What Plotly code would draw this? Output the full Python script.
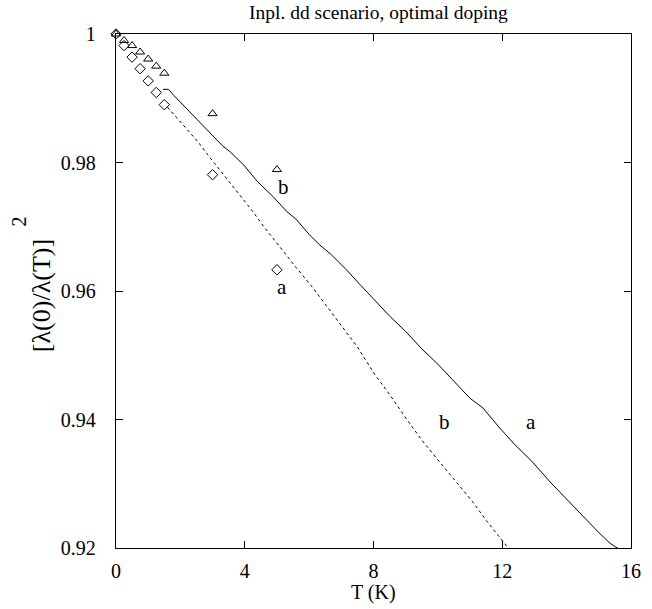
import plotly.graph_objects as go

# ---- data ----
tri_T = [0.0, 0.25, 0.5, 0.75, 1.0, 1.25, 1.5, 3.0, 5.0]
tri_v = [1.0, 0.9990, 0.9982, 0.9972, 0.9961, 0.9950, 0.9939, 0.9876, 0.9789]

dia_T = [0.0, 0.25, 0.5, 0.75, 1.0, 1.25, 1.5, 3.0, 5.0]
dia_v = [1.0, 0.9982, 0.9964, 0.9946, 0.9927, 0.9909, 0.9890, 0.9781, 0.9633]

line_a_T = [1.46, 1.63, 1.8, 2.14, 2.5, 2.85, 3.31, 3.56, 3.97, 4.4, 4.88, 5.3,
            5.59, 6.0, 6.3, 6.7, 7.12, 7.6, 8.0, 8.5, 9.0, 9.5, 10.0, 10.47,
            11.0, 11.4, 11.9, 12.4, 12.9, 13.52, 14.0, 14.54, 15.0, 15.35, 15.6]
line_a_v = [0.99139, 0.99139, 0.99042, 0.98868, 0.98690, 0.98505, 0.98260,
            0.98160, 0.97960, 0.97700, 0.97469, 0.97240, 0.97120, 0.96880,
            0.96730, 0.96560, 0.96350, 0.96090, 0.95880, 0.95610, 0.95370,
            0.95100, 0.94860, 0.94614, 0.94330, 0.94180, 0.93880, 0.93603,
            0.93360, 0.93010, 0.92760, 0.92470, 0.92240, 0.92073, 0.91990]

line_b_T = [1.6, 2.0, 2.3, 2.55, 2.85, 3.36, 3.87, 4.2, 4.58, 5.0, 5.59, 6.1,
            6.61, 7.0, 7.5, 8.04, 8.5, 9.05, 9.5, 10.07, 10.5, 11.08, 11.5,
            11.9, 12.2]
line_b_v = [0.98860, 0.98630, 0.98470, 0.98320, 0.98120, 0.97800, 0.97480,
            0.97270, 0.97010, 0.96740, 0.96370, 0.96060, 0.95720, 0.95470,
            0.95130, 0.94700, 0.94390, 0.93990, 0.93680, 0.93330, 0.93070,
            0.92720, 0.92430, 0.92176, 0.91990]

x_ticks = [0, 4, 8, 12, 16]
x_ticktext = ["0", "4", "8", "12", "16"]
y_ticks = [0.92, 0.94, 0.96, 0.98, 1.0]
y_ticktext = ["0.92", "0.94", "0.96", "0.98", "1"]

labels_text = ["b", "a", "b", "a"]
labels_T = [5.2, 5.17, 10.2, 12.9]
labels_v = [0.9762, 0.9606, 0.9396, 0.9396]

FONT = "Liberation Serif"

fig = go.Figure()
fig.add_trace(go.Scatter(x=line_a_T, y=line_a_v, mode="lines",
                         line=dict(color="black", width=1), showlegend=False))
fig.add_trace(go.Scatter(x=line_b_T, y=line_b_v, mode="lines",
                         line=dict(color="black", width=1, dash="dot"), showlegend=False))
fig.add_trace(go.Scatter(x=tri_T, y=tri_v, mode="markers",
                         marker=dict(symbol="triangle-up-open", size=8, color="black",
                                     line=dict(width=1)), showlegend=False, cliponaxis=False))
fig.add_trace(go.Scatter(x=dia_T, y=dia_v, mode="markers",
                         marker=dict(symbol="diamond-open", size=8, color="black",
                                     line=dict(width=1)), showlegend=False, cliponaxis=False))

for t, xx, yy in zip(labels_text, labels_T, labels_v):
    fig.add_annotation(x=xx, y=yy, text=t, showarrow=False,
                       font=dict(family=FONT, size=21, color="black"))

# title
fig.add_annotation(xref="paper", yref="paper", x=0.51, y=1, yshift=22, yanchor="middle",
                   text="Inpl. dd scenario, optimal doping", showarrow=False,
                   font=dict(family=FONT, size=19.5, color="black"))
# x label
fig.add_annotation(xref="paper", yref="paper", x=0.5, y=0, yshift=-44, yanchor="middle",
                   text="T (K)", showarrow=False,
                   font=dict(family=FONT, size=20, color="black"))
# y label
fig.add_annotation(xref="paper", yref="paper", x=0, xshift=-75, y=0.49,
                   xanchor="center", yanchor="middle", textangle=-90,
                   text="[λ(0)/λ(T)]", showarrow=False,
                   font=dict(family=FONT, size=26, color="black"))
fig.add_annotation(xref="paper", yref="paper", x=0, xshift=-97, y=0.635,
                   xanchor="center", yanchor="middle", textangle=-90,
                   text="2", showarrow=False,
                   font=dict(family=FONT, size=20, color="black"))

axis_common = dict(showgrid=False, zeroline=False, showline=True, linecolor="black",
                   linewidth=1.3, mirror="ticks", ticks="inside", ticklen=7,
                   tickwidth=1, tickcolor="black",
                   tickfont=dict(family=FONT, size=20, color="black"))

fig.update_xaxes(range=[0, 16], tickvals=x_ticks, ticktext=x_ticktext,
                 ticklabelstandoff=5, **axis_common)
fig.update_yaxes(range=[0.92, 1.0], tickvals=y_ticks, ticktext=y_ticktext,
                 ticklabelstandoff=15, **axis_common)

fig.update_layout(width=652, height=609, margin=dict(l=116, r=11, t=34, b=61),
                  paper_bgcolor="white", plot_bgcolor="white",
                  font=dict(family=FONT, color="black"))

fig.write_html("out.html")
